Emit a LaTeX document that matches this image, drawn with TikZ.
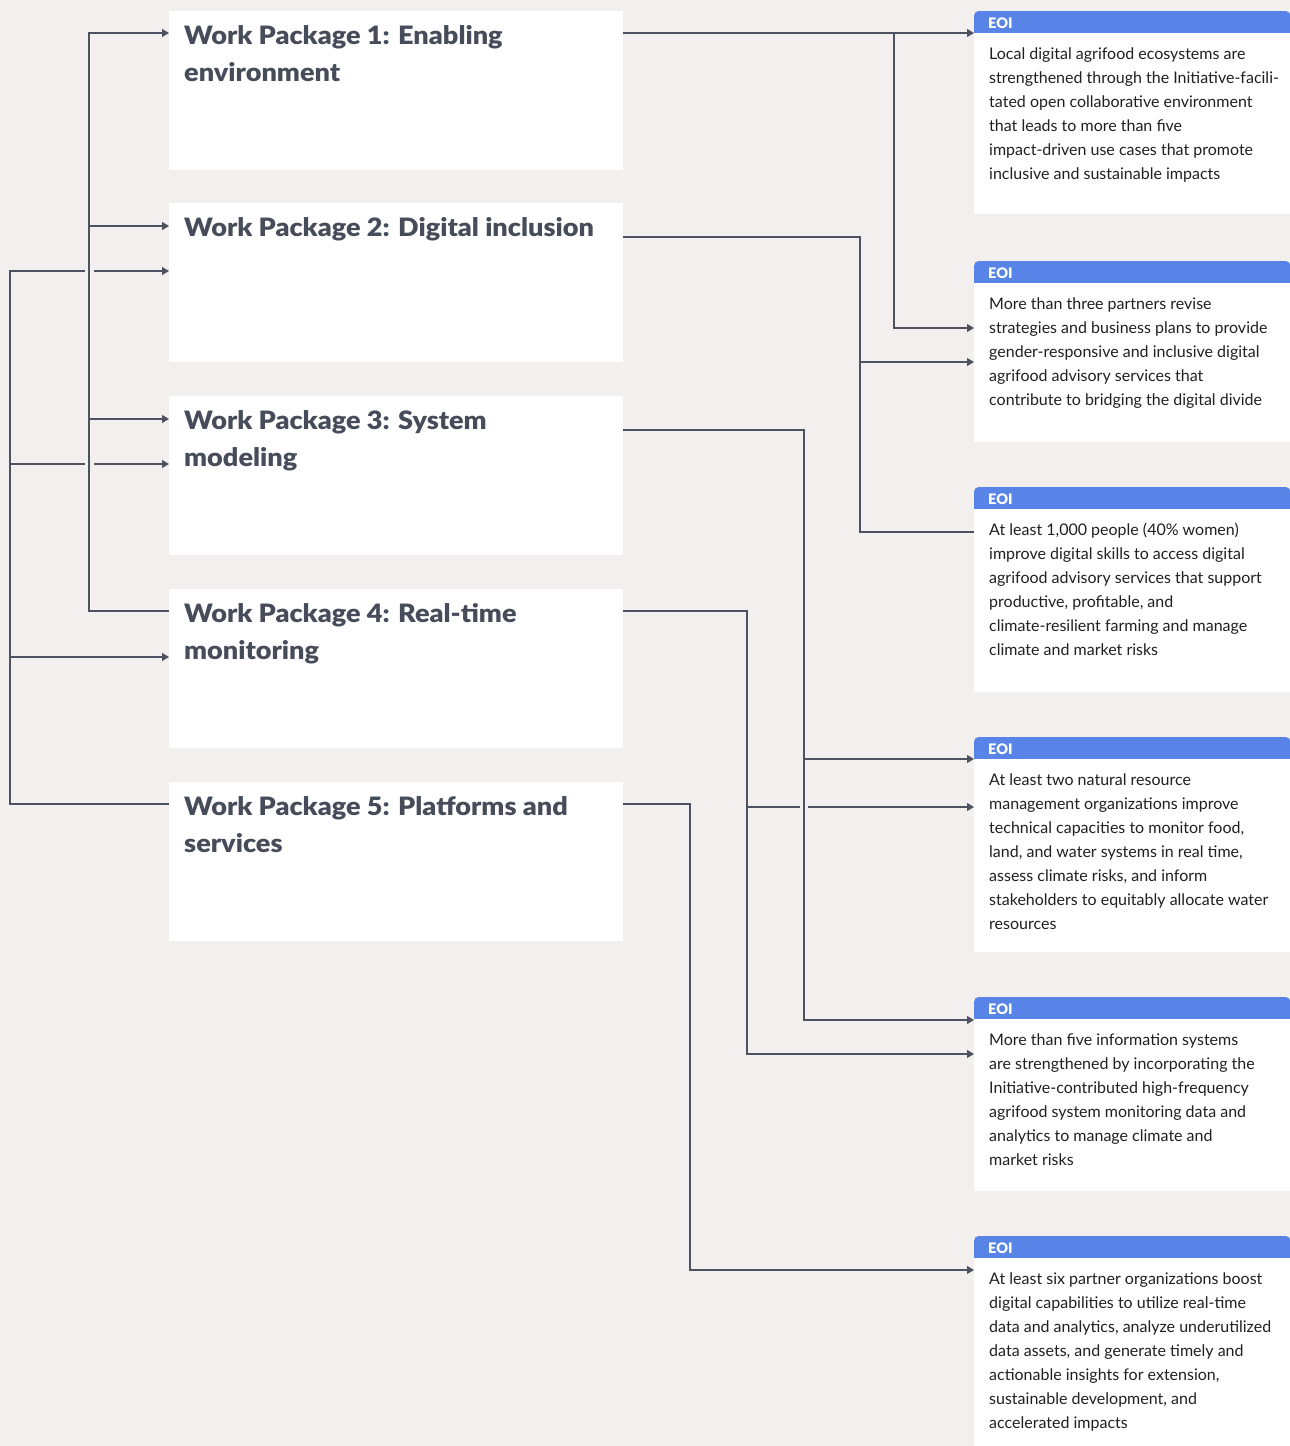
\documentclass[tikz,border=0pt]{standalone}
\usepackage{fontspec}
\setmainfont{Lato}[BoldFont={Lato Black}]
\newfontfamily\wpfont{Lato Black}[FakeStretch=1.07]
\usetikzlibrary{arrows.meta}
\definecolor{bg}{HTML}{F2EFEE}
\definecolor{eoiblue}{HTML}{5784E6}
\definecolor{wpgray}{HTML}{464C59}
\definecolor{linegray}{HTML}{4E5260}
\definecolor{bodyblack}{HTML}{202020}

\begin{document}
\begin{tikzpicture}[x=1pt, y=-1pt,
  wp/.style = {fill=white, anchor=north west, inner sep=0, minimum width=454pt, minimum height=159pt},
  wptitle/.style = {anchor=base west, align=left, inner sep=0, text=wpgray, font=\wpfont\fontsize{25.3}{37}\selectfont},
  eoihead/.style = {fill=eoiblue, anchor=north west, inner sep=0, minimum width=316pt, minimum height=28pt, rounded corners=4pt},
  eoibox/.style = {fill=white, anchor=north west, inner sep=0, minimum width=316pt},
  eoilabel/.style = {anchor=base west, inner sep=0, text=white, font=\bfseries\fontsize{14.5}{16}\selectfont},
  eoitext/.style = {anchor=base west, align=left, inner sep=0, text=bodyblack, font=\fontsize{16}{24}\selectfont},
  link/.style = {draw=linegray, line width=1.2pt},
  arr/.style = {link, -{Triangle[length=7pt, width=8pt]}},
  gap/.style = {draw=bg, line width=4pt}]

\fill[bg] (0,0) rectangle (1290,1446);
\useasboundingbox (0,0) rectangle (1290,1446);

% work packages (titles sit on the baseline of their last line)
\node[wp] (wp1) at (169,11) {};
\node[wp] (wp2) at (169,203) {};
\node[wp] (wp3) at (169,396) {};
\node[wp] (wp4) at (169,589) {};
\node[wp] (wp5) at (169,782) {};
\node[wptitle] (wp1t) at (184,81) {Work Package 1: Enabling\\environment};
\node[wptitle] (wp2t) at (184,236) {Work Package 2: Digital inclusion};
\node[wptitle] (wp3t) at (184,466) {Work Package 3: System\\modeling};
\node[wptitle] (wp4t) at (184,659) {Work Package 4: Real-time\\monitoring};
\node[wptitle] (wp5t) at (184,852) {Work Package 5: Platforms and\\services};

% end of initiative outcomes
\node[eoihead] (eoi1h) at (974,11) {};
\node[eoibox, minimum height=181pt] (eoi1) at (974,33) {};
\node[eoilabel] (eoi1l) at (988,28) {EOI};
\node[eoitext] (eoi1t) at (989,179) {Local digital agrifood ecosystems are\\strengthened through the Initiative-facili-\\tated open collaborative environment\\that leads to more than five\\impact-driven use cases that promote\\inclusive and sustainable impacts};

\node[eoihead] (eoi2h) at (974,261) {};
\node[eoibox, minimum height=159pt] (eoi2) at (974,283) {};
\node[eoilabel] (eoi2l) at (988,278) {EOI};
\node[eoitext] (eoi2t) at (989,405) {More than three partners revise\\strategies and business plans to provide\\gender-responsive and inclusive digital\\agrifood advisory services that\\contribute to bridging the digital divide};

\node[eoihead] (eoi3h) at (974,487) {};
\node[eoibox, minimum height=183pt] (eoi3) at (974,509) {};
\node[eoilabel] (eoi3l) at (988,504) {EOI};
\node[eoitext] (eoi3t) at (989,655) {At least 1,000 people (40\% women)\\improve digital skills to access digital\\agrifood advisory services that support\\productive, profitable, and\\climate-resilient farming and manage\\climate and market risks};

\node[eoihead] (eoi4h) at (974,737) {};
\node[eoibox, minimum height=193pt] (eoi4) at (974,759) {};
\node[eoilabel] (eoi4l) at (988,754) {EOI};
\node[eoitext] (eoi4t) at (989,929) {At least two natural resource\\management organizations improve\\technical capacities to monitor food,\\land, and water systems in real time,\\assess climate risks, and inform\\stakeholders to equitably allocate water\\resources};

\node[eoihead] (eoi5h) at (974,997) {};
\node[eoibox, minimum height=172pt] (eoi5) at (974,1019) {};
\node[eoilabel] (eoi5l) at (988,1014) {EOI};
\node[eoitext] (eoi5t) at (989,1165) {More than five information systems\\are strengthened by incorporating the\\Initiative-contributed high-frequency\\agrifood system monitoring data and\\analytics to manage climate and\\market risks};

\node[eoihead] (eoi6h) at (974,1236) {};
\node[eoibox, minimum height=188pt] (eoi6) at (974,1258) {};
\node[eoilabel] (eoi6l) at (988,1253) {EOI};
\node[eoitext] (eoi6t) at (989,1428) {At least six partner organizations boost\\digital capabilities to utilize real-time\\data and analytics, analyze underutilized\\data assets, and generate timely and\\actionable insights for extension,\\sustainable development, and\\accelerated impacts};

% ports
\coordinate (w1o) at ([yshift=-22pt]wp1.north east);
\coordinate (w2o) at ([yshift=-34pt]wp2.north east);
\coordinate (w3o) at ([yshift=-34pt]wp3.north east);
\coordinate (w4o) at ([yshift=-22pt]wp4.north east);
\coordinate (w5o) at ([yshift=-22pt]wp5.north east);
\coordinate (w1i) at ([yshift=-22pt]wp1.north west);
\coordinate (w2i) at ([yshift=-23pt]wp2.north west);
\coordinate (w2j) at ([yshift=-68pt]wp2.north west);
\coordinate (w3i) at ([yshift=-23pt]wp3.north west);
\coordinate (w3j) at ([yshift=-68pt]wp3.north west);
\coordinate (w4i) at ([yshift=-22pt]wp4.north west);
\coordinate (w4j) at ([yshift=-68pt]wp4.north west);
\coordinate (w5i) at ([yshift=-22pt]wp5.north west);
\coordinate (e2a) at ([yshift=-45pt]eoi2.north west);
\coordinate (e2b) at ([yshift=-79pt]eoi2.north west);
\coordinate (e3) at ([yshift=-23pt]eoi3.north west);
\coordinate (e4b) at ([yshift=-48pt]eoi4.north west);
\coordinate (e5a) at ([yshift=-1pt]eoi5.north west);
\coordinate (e5b) at ([yshift=-35pt]eoi5.north west);
\coordinate (e6) at ([yshift=-12pt]eoi6.north west);

% bus lines
\coordinate (x1) at (894,0);
\coordinate (x2) at (860,0);
\coordinate (x3) at (804,0);
\coordinate (x4) at (747,0);
\coordinate (x5) at (690,0);
\coordinate (xa) at (89,0);
\coordinate (xb) at (10,0);

% right side
\draw[arr] (w1o) -- (eoi1.north west);
\draw[arr] (w1o -| x1) |- (e2a);
\draw[link] (w2o) -| (x2 |- e3) -- (e3);
\draw[arr] (x2 |- e2b) -- (e2b);
\draw[arr] (w4o) -| (x4 |- e5b) -- (e5b);
\draw[arr] (x4 |- e4b) -- (e4b);
\path (x3 |- e4b) coordinate (c34);
\draw[gap] ([xshift=-4pt]c34) -- ([xshift=4pt]c34);
\draw[arr] (w3o) -| (x3 |- e5a) -- (e5a);
\draw[arr] (x3 |- eoi4.north west) -- (eoi4.north west);
\draw[arr] (w5o) -| (x5 |- e6) -- (e6);

% left side
\draw[arr] (w5i) -| (xb |- w2j) -- (w2j);
\draw[arr] (xb |- w3j) -- (w3j);
\draw[arr] (xb |- w4j) -- (w4j);
\path (xa |- w2j) coordinate (c12);
\path (xa |- w3j) coordinate (c13);
\draw[gap] ([xshift=-4.5pt]c12) -- ([xshift=4.5pt]c12);
\draw[gap] ([xshift=-4.5pt]c13) -- ([xshift=4.5pt]c13);
\draw[arr] (w4i) -| (xa |- w1i) -- (w1i);
\draw[arr] (xa |- w2i) -- (w2i);
\draw[arr] (xa |- w3i) -- (w3i);
\end{tikzpicture}
\end{document}
